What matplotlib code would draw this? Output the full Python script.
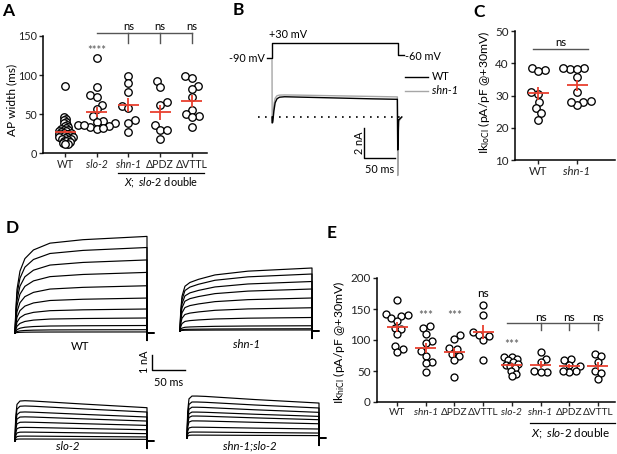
import numpy as np
import matplotlib
matplotlib.use('Agg')
import matplotlib.pyplot as plt

W, H, DPI = 617, 454, 100
plt.rcParams['font.family'] = ['Lato', 'DejaVu Sans']
plt.rcParams['mathtext.fontset'] = 'custom'
plt.rcParams['mathtext.rm'] = 'Lato'
plt.rcParams['mathtext.it'] = 'Lato:italic'
plt.rcParams['font.size'] = 7.5

# ---------------- data ----------------
# Panel A: AP width (ms)
a_categories = ['WT', 'slo-2', 'shn-1', 'ΔPDZ', 'ΔVTTL']
a_wt = [86, 46, 44, 42, 40, 38, 36, 35, 33, 32, 31, 30, 29, 28, 28, 27, 26, 26, 25,
        24, 24, 23, 22, 22, 21, 20, 20, 19, 18, 18, 17, 16, 15, 14, 13, 12, 12]
a_slo2 = [122, 85, 74, 72, 62, 57, 47, 41, 40, 38, 36, 35, 33, 31, 32, 36]
a_shn1_dbl = [99, 90, 78, 60, 58, 42, 38, 27]
a_dpdz_dbl = [92, 84, 66, 62, 36, 30, 30, 18]
a_dvttl_dbl = [99, 96, 86, 82, 72, 55, 50, 48, 46, 33]

# Panel B: example currents (nA) and protocol (mV)
b_time = [0, 0.3, 1.2, 3, 5, 8, 12, 20, 40, 80, 120, 160, 199, 199.6, 201, 206]
b_wt = [0, -0.4, -0.35, 0.4, 0.95, 1.22, 1.32, 1.35, 1.33, 1.29, 1.25, 1.21, 1.18, -2.2, -0.2, 0]
b_shn1 = [3.8, -0.3, -0.2, 0.8, 1.25, 1.42, 1.46, 1.47, 1.46, 1.43, 1.4, 1.37, 1.34, -3.9, -0.3, 0]
b_prot_time = [-8, 0, 0, 200, 200, 210]
b_prot_mv = [-90, -90, 30, 30, -60, -60]

# Panel C: Ik loCl (pA/pF)
c_categories = ['WT', 'shn-1']
c_wt = [38, 38.5, 37.5, 30.5, 31, 28, 26, 24.5, 22.5]
c_shn1 = [38.2, 38.5, 38.5, 38.2, 35.8, 31, 28, 27, 28, 28.3]

# Panel D: current families (nA); activation time course (ms) normalised to the end value
d_time = [0, 1, 3, 7.5, 15, 28, 53, 103, 200]
d_wt_shape = [0, 0.2, 0.45, 0.64, 0.77, 0.86, 0.93, 0.966, 1.0]
d_wt_amp = [6.44, 5.7, 4.87, 4.04, 3.15, 2.33, 1.6, 1.0, 0.5, 0.22, 0.07]
d_shn1_shape = [0, 0.3, 0.55, 0.71, 0.77, 0.82, 0.89, 0.95, 1.0]
d_shn1_amp = [4.2, 3.8, 3.3, 2.8, 2.2, 1.55, 0.9, 0.35, 0.15, 0.07]
d_slo2_shape = [0, 0.7, 1.1, 1.2, 1.21, 1.2, 1.17, 1.11, 1.0]
d_slo2_amp = [2.22, 1.93, 1.6, 1.33, 1.04, 0.75, 0.49, 0.27, 0.11]
d_dbl_shape = [0, 0.75, 1.12, 1.2, 1.2, 1.19, 1.16, 1.1, 1.0]
d_dbl_amp = [2.33, 2.0, 1.71, 1.44, 1.22, 0.95, 0.6, 0.33, 0.16]
d_tail_time = [200.01, 200.6, 210]
d_tail_val = [-0.5, 0, 0]

# Panel E: Ik hiCl (pA/pF)
e_categories = ['WT', 'shn-1', 'ΔPDZ', 'ΔVTTL', 'slo-2', 'shn-1', 'ΔPDZ', 'ΔVTTL']
e_wt = [165, 142, 140, 138, 135, 130, 120, 118, 110, 90, 85, 80]
e_shn1 = [122, 120, 110, 98, 95, 82, 75, 65, 63, 48]
e_dpdz = [108, 102, 87, 85, 78, 75, 68, 40]
e_dvttl = [156, 140, 113, 108, 106, 100, 67]
e_slo2 = [73, 72, 70, 68, 65, 62, 60, 58, 55, 50, 45, 42]
e_shn1_dbl = [80, 70, 65, 50, 48, 48]
e_dpdz_dbl = [70, 67, 60, 58, 50, 48, 50]
e_dvttl_dbl = [77, 74, 65, 50, 46, 37]

# ---------------- helpers ----------------
RED = '#e8402f'
GRAY = '#555555'
fig = plt.figure(figsize=(W / DPI, H / DPI), dpi=DPI)
ov = fig.add_axes([0, 0, 1, 1])
ov.set_xlim(0, W); ov.set_ylim(H, 0); ov.axis('off')


def px_axes(ox, oy, sx, sy, xlim, ylim):
    left = ox + xlim[0] * sx
    right = ox + xlim[1] * sx
    top = oy - ylim[1] * sy
    bottom = oy - ylim[0] * sy
    ax = fig.add_axes([left / W, 1 - bottom / H, (right - left) / W, (bottom - top) / H])
    ax.set_xlim(xlim); ax.set_ylim(ylim)
    ax.patch.set_alpha(0)
    return ax


def swarm(vals, sy, sep):
    vals = np.asarray(vals, float)
    order = np.argsort(vals)
    placed = []
    offs = np.zeros(len(vals))
    side = 1
    for idx in order:
        y = vals[idx] * sy
        cands = [0.0]
        for (px, py) in placed:
            dy = abs(y - py)
            if dy < sep:
                d = np.sqrt(sep ** 2 - dy ** 2)
                cands += [px + d + 1e-6, px - d - 1e-6]
        ok = [c for c in cands if all((c - px) ** 2 + (y - py) ** 2 >= sep ** 2 - 1e-6 for px, py in placed)]
        best = min(ok, key=lambda c: (round(abs(c), 3), -side * np.sign(c)))
        if best != 0:
            side = -side
        offs[idx] = best
        placed.append((best, y))
    return offs


def dot_panel(ax, groups, sx, sy, seps, ms=5.4):
    for i, vals in enumerate(groups):
        offs = swarm(vals, sy, seps[i])
        ax.plot(i + offs / sx, vals, 'o', ms=ms, mfc='white', mec='black', mew=0.95,
                clip_on=False, zorder=3)
        m = np.mean(vals)
        se = np.std(vals, ddof=1) / np.sqrt(len(vals))
        hw = 10.5 / sx
        ax.plot([i - hw, i + hw], [m, m], color=RED, lw=1.3, zorder=4, solid_capstyle='butt')
        ax.plot([i, i], [m - se, m + se], color=RED, lw=1.3, zorder=4, solid_capstyle='butt')


def style_dot_axes(ax, yticks, labels, italic, xsize, ysize):
    for s in ['top', 'right']:
        ax.spines[s].set_visible(False)
    for s in ['left', 'bottom']:
        ax.spines[s].set_linewidth(1.1)
    ax.tick_params(length=3, width=1.0, pad=1.5, colors='#222222')
    ax.tick_params(axis='x', labelsize=xsize)
    ax.tick_params(axis='y', labelsize=ysize)
    ax.set_yticks(yticks)
    ax.set_xticks(range(len(labels)))
    ax.set_xticklabels(labels)
    for k, t in enumerate(ax.get_xticklabels()):
        if k in italic:
            t.set_style('italic')


# ---------------- panel A ----------------
axA = px_axes(65, 153, 31.75, 0.78, (-0.69, 4.47), (0, 150))
dot_panel(axA, [a_wt, a_slo2, a_shn1_dbl, a_dpdz_dbl, a_dvttl_dbl], 31.75, 0.78,
          [2.6, 6.5, 7.0, 7.0, 7.0])
style_dot_axes(axA, [0, 50, 100, 150], a_categories, [1, 2], 7.6, 7.8)
axA.text(1, 132, '****', ha='center', va='center', color=GRAY, fontsize=8)
axA.plot([1, 4], [154, 154], color=GRAY, lw=1, clip_on=False)
for x in [2, 3, 4]:
    axA.plot([x, x], [154, 141], color=GRAY, lw=1, clip_on=False)
    axA.text(x, 155, 'ns', ha='center', va='bottom', fontsize=8)
ov.text(12, 100, 'AP width (ms)', rotation=90, ha='center', va='center', fontsize=8.6)
ov.plot([118, 204], [173, 173], color='black', lw=0.9)
ov.text(161, 183, r'$\mathit{X;\ slo}$-$\mathit{2}$ double', ha='center', va='center', fontsize=7.8)

# ---------------- panel B ----------------
B_ox, B_oy, B_sx, B_sy = 272, 117, 0.63, 15
axB = px_axes(B_ox, B_oy, B_sx, B_sy, (-25, 215), (-4.3, 4.3))
axB.axis('off')
axB.plot(b_time, b_shn1, color='#a6a6a6', lw=1.0)
axB.plot(b_time, b_wt, color='black', lw=1.0)
axB.plot([-22, 208], [0, 0], color='black', lw=1.2, linestyle=(0, (1, 3.2)))
axB.plot([146, 146, 196], [-0.73, -2.73, -2.73], color='black', lw=1.0, clip_on=False)
axB.text(139, -1.73, '2 nA', rotation=90, ha='center', va='center', fontsize=7.8)
axB.text(171, -3.5, '50 ms', ha='center', va='center', fontsize=7.8)
axV = px_axes(B_ox, 58.3 - 90 * 0.125, B_sx, 0.125, (-25, 215), (-110, 50))
axV.axis('off')
axV.plot(b_prot_time, b_prot_mv, color='black', lw=1.0)
ov.text(288, 35, '+30 mV', ha='center', va='center', fontsize=7.8)
ov.text(265, 58, '-90 mV', ha='right', va='center', fontsize=7.8)
ov.text(405, 57, '-60 mV', ha='left', va='center', fontsize=7.8)
ov.plot([405, 428], [77, 77], color='black', lw=1.0)
ov.plot([405, 428], [91, 91], color='#a6a6a6', lw=1.0)
ov.text(432, 77, 'WT', ha='left', va='center', fontsize=7.8)
ov.text(432, 91, 'shn-1', ha='left', va='center', fontsize=7.8, style='italic')

# ---------------- panel C ----------------
axC = px_axes(538, 192.25, 39, 3.225, (-0.59, 1.97), (10, 50))
dot_panel(axC, [c_wt, c_shn1], 39, 3.225, [7.2, 7.2])
style_dot_axes(axC, [10, 20, 30, 40, 50], c_categories, [1], 8.2, 8.4)
axC.plot([-0.13, 1.28], [44.3, 44.3], color=GRAY, lw=1, clip_on=False)
axC.text(0.575, 44.8, 'ns', ha='center', va='bottom', fontsize=8.2)
ov.text(484, 92, r'Ik$_{\mathrm{loCl}}$ (pA/pF @+30mV)', rotation=90, ha='center', va='center', fontsize=8.8)

# ---------------- panel D ----------------
D_sx, D_sy = 0.66, 15
families = [((15, 333), d_wt_shape, d_wt_amp),
            ((180, 331), d_shn1_shape, d_shn1_amp),
            ((15, 441), d_slo2_shape, d_slo2_amp),
            ((187, 438), d_dbl_shape, d_dbl_amp)]
for (ox, oy), shape, amps in families:
    axd = px_axes(ox, oy, D_sx, D_sy, (-5, 215), (-1.0, 7.0))
    axd.axis('off')
    for a in amps:
        t = list(d_time) + d_tail_time
        v = [a * s for s in shape] + d_tail_val
        axd.plot(t, v, color='black', lw=0.85, solid_joinstyle='round')
ov.text(80, 347, 'WT', ha='center', va='center', fontsize=8.2)
ov.text(247, 344, 'shn-1', ha='center', va='center', fontsize=8.2, style='italic')
ov.text(68, 446, 'slo-2', ha='center', va='center', fontsize=8.2, style='italic')
ov.text(250, 446, 'shn-1;slo-2', ha='center', va='center', fontsize=8.2, style='italic')
ov.plot([152, 152, 185], [355, 370, 370], color='black', lw=1.0)
ov.text(145, 362, '1 nA', rotation=90, ha='center', va='center', fontsize=7.8)
ov.text(169, 383, '50 ms', ha='center', va='center', fontsize=7.8)

# ---------------- panel E ----------------
axE = px_axes(397, 402, 28.7, 0.62, (-0.70, 7.6), (0, 200))
dot_panel(axE, [e_wt, e_shn1, e_dpdz, e_dvttl, e_slo2, e_shn1_dbl, e_dpdz_dbl, e_dvttl_dbl],
          28.7, 0.62, [6.6] * 4 + [5.0] + [6.6] * 3, ms=5.0)
style_dot_axes(axE, [0, 50, 100, 150, 200], e_categories, [1, 4, 5], 7.3, 8.4)
for x in [1, 2]:
    axE.text(x, 140, '***', ha='center', va='center', color=GRAY, fontsize=8.4)
axE.text(4, 92, '***', ha='center', va='center', color=GRAY, fontsize=8.4)
axE.text(3, 166, 'ns', ha='center', va='bottom', fontsize=8.6)
axE.plot([3.85, 7.05], [127, 127], color=GRAY, lw=1, clip_on=False)
for x in [5, 6, 7]:
    axE.plot([x, x], [127, 116], color=GRAY, lw=1, clip_on=False)
    axE.text(x, 128, 'ns', ha='center', va='bottom', fontsize=8.6)
ov.text(339, 342, r'Ik$_{\mathrm{hiCl}}$ (pA/pF @+30mV)', rotation=90, ha='center', va='center', fontsize=8.8)
ov.plot([530, 615], [423, 423], color='black', lw=0.9)
ov.text(571, 434, r'$\mathit{X;\ slo}$-$\mathit{2}$ double', ha='center', va='center', fontsize=8.4)

# ---------------- panel letters ----------------
for lab, x, y in [('A', 2, 16), ('B', 233, 15), ('C', 473, 17), ('D', 6, 233), ('E', 327, 238)]:
    ov.text(x, y, lab, fontsize=12.5, fontweight='bold', ha='left', va='baseline')

fig.savefig('out.png', dpi=DPI)
